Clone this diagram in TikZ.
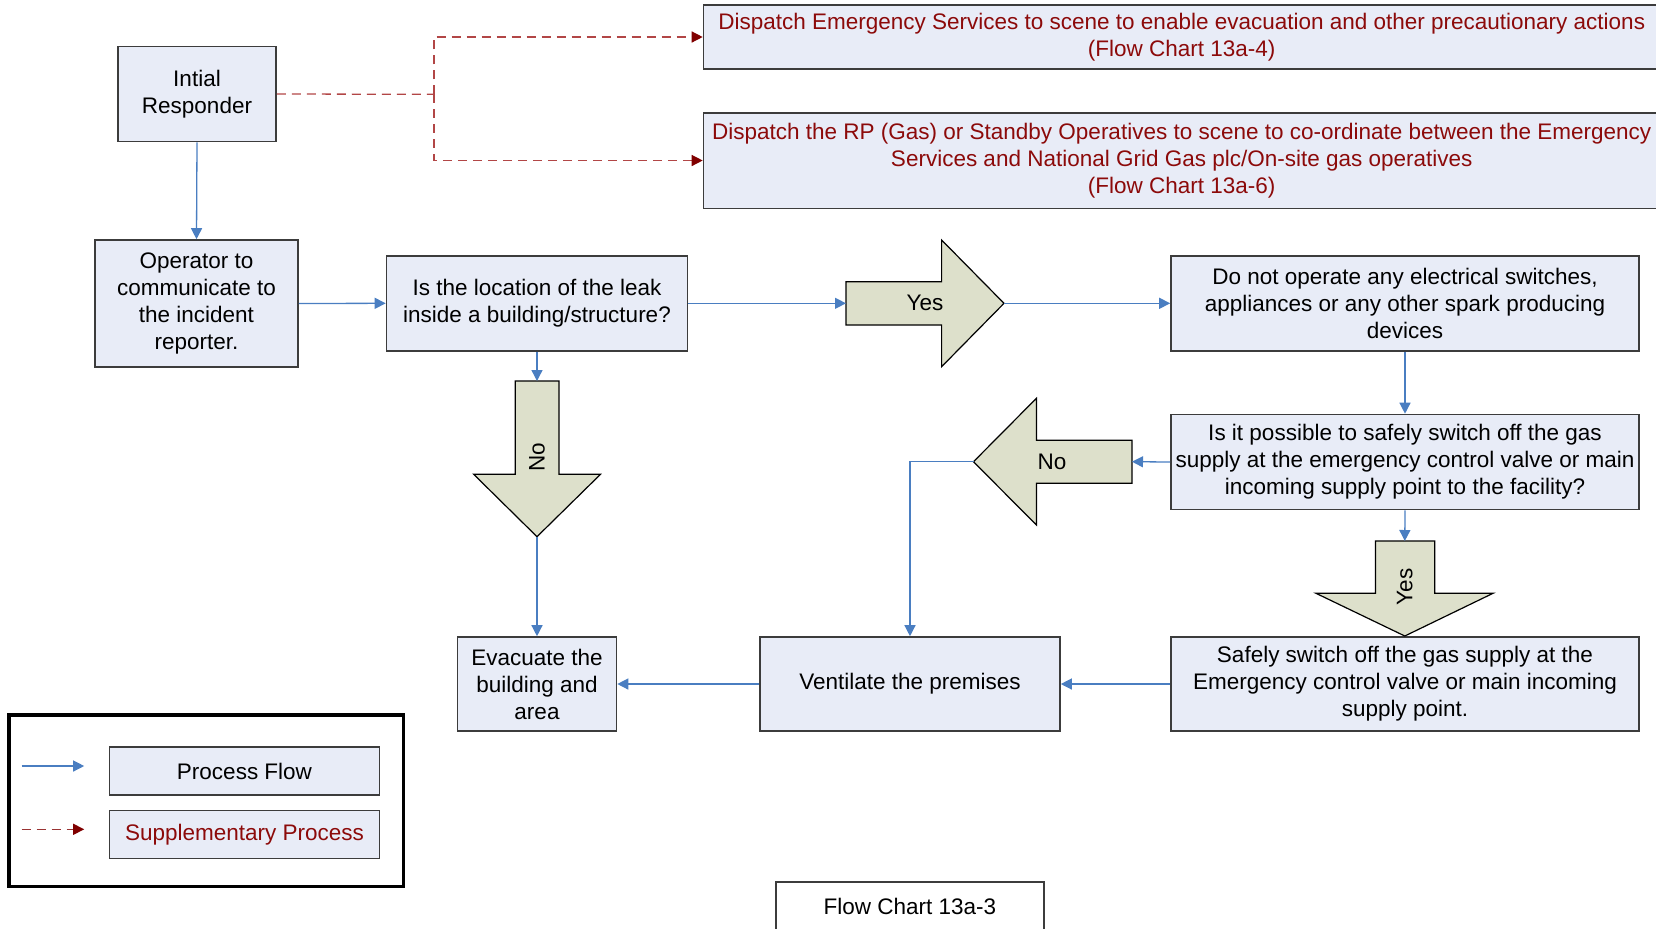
\documentclass[tikz,border=0pt]{standalone}
\usepackage{fontspec}
\setmainfont{Liberation Sans}
\usetikzlibrary{arrows.meta}

\definecolor{boxfill}{RGB}{232,236,247}
\definecolor{boxline}{RGB}{60,60,60}
\definecolor{flowblue}{RGB}{74,126,193}
\definecolor{suppred}{RGB}{140,10,10}
\definecolor{dashred}{RGB}{178,70,70}
\definecolor{tipred}{RGB}{128,0,0}
\definecolor{choicefill}{RGB}{221,224,203}

\tikzset{
  box/.style={draw=boxline, line width=0.8pt, fill=boxfill, align=center,
    inner sep=0pt, font=\fontsize{11.25}{13.5}\selectfont},
  supbox/.style={box, text=suppred},
  flow/.style={draw=flowblue, line width=0.65pt,
    -{Triangle[length=5.5pt,width=5.5pt]}},
  supflow/.style={draw=dashred, line width=0.65pt, dash pattern=on 4.5pt off 3pt,
    -{Triangle[length=5.5pt,width=5.5pt,color=tipred]}},
  flowline/.style={draw=flowblue, line width=0.65pt},
  supline/.style={draw=dashred, line width=0.65pt, dash pattern=on 4.5pt off 3pt},
  choice/.style={draw=black, line width=0.6pt, fill=choicefill},
  choicetext/.style={font=\fontsize{11.25}{13.5}\selectfont, inner sep=0pt}
}

\begin{document}
\begin{tikzpicture}[x=0.5pt,y=-0.5pt]
\useasboundingbox (0,0) rectangle (1656,928);

% process boxes
\node[box, minimum width=79pt, minimum height=47.5pt] (intial) at (197,94) {Intial\\Responder};
\node[box, minimum width=101.5pt, minimum height=63.5pt] (operator) at (196.5,303.5)
  {Operator to\\communicate to\\the incident\\reporter.};
\node[box, minimum width=150.5pt, minimum height=47.5pt] (inside) at (537,303.3)
  {Is the location of the leak\\inside a building/structure?};
\node[box, minimum width=234pt, minimum height=47.5pt] (donot) at (1405,303.3)
  {Do not operate any electrical switches,\\appliances or any other spark producing\\devices};
\node[box, minimum width=234pt, minimum height=47.5pt] (possible) at (1405,462)
  {Is it possible to safely switch off the gas\\supply at the emergency control valve or main\\incoming supply point to the facility?};
\node[box, minimum width=234pt, minimum height=47pt] (switchoff) at (1405,684)
  {Safely switch off the gas supply at the\\Emergency control valve or main incoming\\supply point.};
\node[box, minimum width=150pt, minimum height=47pt] (vent) at (910,684) {Ventilate the premises};
\node[box, minimum width=79.5pt, minimum height=47pt] (evac) at (537,684)
  {Evacuate the\\building and\\area};

% supplementary processes
\node[supbox, minimum width=478.25pt, minimum height=32pt] (disp1) at (1181.75,37)
  {Dispatch Emergency Services to scene to enable evacuation and other precautionary actions\\(Flow Chart 13a-4)};
\node[supbox, minimum width=478.25pt, minimum height=47.8pt] (disp2) at (1181.75,160.5)
  {Dispatch the RP (Gas) or Standby Operatives to scene to co-ordinate between the Emergency\\Services and National Grid Gas plc/On-site gas operatives\\(Flow Chart 13a-6)};

% decision arrows
\draw[choice] (846,281.7) -- (941.6,281.7) -- (941.6,240)
  -- (1004,303.3) coordinate (yesAout) -- (941.6,366.7) -- (941.6,325) -- (846,325) -- cycle;
\coordinate (yesAtail) at (846,303.3);
\node[choicetext] (yesAtext) at (925,303.3) {Yes};

\draw[choice] (515.3,381) -- (559,381) -- (559,474.3) -- (600.5,474.3)
  -- (537,536.7) coordinate (noAout) -- (473.7,474.3) -- (515.3,474.3) -- cycle;
\coordinate (noAtail) at (537,381);
\node[choicetext, rotate=90] (noAtext) at (537,457) {No};

\draw[choice] (1132,440.3) -- (1036.4,440.3) -- (1036.4,398.3)
  -- (973.5,461.7) coordinate (noBout) -- (1036.4,525) -- (1036.4,483.3) -- (1132,483.3) -- cycle;
\coordinate (noBtail) at (1132,461.7);
\node[choicetext] (noBtext) at (1052,461.7) {No};

\draw[choice] (1375.4,541) -- (1434.7,541) -- (1434.7,593.3) -- (1493,593.3)
  -- (1404.8,636) coordinate (yesBout) -- (1316,593.3) -- (1375.4,593.3) -- cycle;
\coordinate (yesBtail) at (1404.8,541);
\node[choicetext, rotate=90] (yesBtext) at (1404.8,587) {Yes};

% process flow connectors
\draw[flow] (intial.south) -- (operator.north);
\draw[flow] (operator.east) -- (inside.west);
\draw[flow] (inside.east) -- (yesAtail);
\draw[flow] (yesAout) -- (donot.west);
\draw[flow] (inside.south) -- (noAtail);
\draw[flow] (noAout) -- (evac.north);
\draw[flow] (donot.south) -- (possible.north);
\draw[flow] (possible.west) -- (noBtail);
\draw[flow] (noBout) -- (vent.north |- noBout) -- (vent.north);
\draw[flow] (possible.south) -- (yesBtail);
\draw[flow] (switchoff.west) -- (vent.east);
\draw[flow] (vent.west) -- (evac.east);

% supplementary connectors
\coordinate (split) at (434,94.3);
\draw[supline] (intial.east) -- (split);
\draw[supflow] (split) -- (split |- disp1.west) -- (disp1.west);
\draw[supflow] (split) -- (split |- disp2.west) -- (disp2.west);

% legend
\node[draw=black, line width=1.6pt, minimum width=197.2pt, minimum height=85.85pt, inner sep=0pt]
  (legend) at (206.2,800.85) {};
\node[box, minimum width=135pt, minimum height=24pt] (lgflow) at (244.5,771) {Process Flow};
\node[supbox, minimum width=135pt, minimum height=24pt] (lgsupp) at (244.5,834.5) {Supplementary Process};
\coordinate (lgA1) at (21.7,766);
\coordinate (lgA2) at (84.2,766);
\coordinate (lgB1) at (21.7,829.3);
\coordinate (lgB2) at (84.2,829.3);
\draw[flow] (lgA1) -- (lgA2);
\draw[supflow, draw=tipred!80] (lgB1) -- (lgB2);

% chart caption
\node[draw=boxline, line width=0.8pt, fill=white, minimum width=134pt, minimum height=25pt,
  inner sep=0pt, font=\fontsize{11.25}{13.5}\selectfont] (caption) at (910,906.7) {Flow Chart 13a-3};
\end{tikzpicture}
\end{document}
